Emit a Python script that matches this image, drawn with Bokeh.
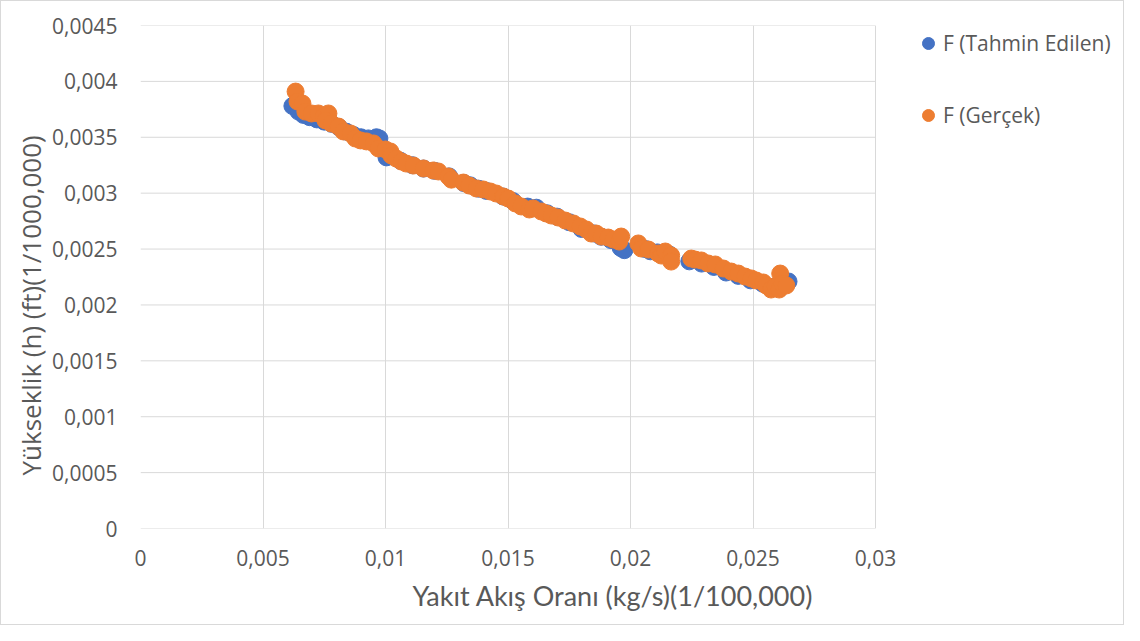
from bokeh.plotting import figure
from bokeh.models import Legend, LegendItem, Title, FixedTicker, Range1d
from bokeh.embed import file_html
from bokeh.resources import INLINE

# --- data -------------------------------------------------------------
gercek_x = [0.00633, 0.00641, 0.00661, 0.00673, 0.00698, 0.00726, 0.00747, 0.00767,
            0.00755, 0.00779, 0.00808, 0.00828, 0.00857, 0.00877, 0.00898, 0.00922,
            0.00951, 0.00971, 0.01000, 0.01020, 0.01024, 0.01044, 0.01065, 0.01085,
            0.01114, 0.01155, 0.01195, 0.01216, 0.01257, 0.01269, 0.01318, 0.01342,
            0.01371, 0.01399, 0.01428, 0.01452, 0.01481, 0.01501, 0.01530, 0.01554,
            0.01587, 0.01603, 0.01636, 0.01656, 0.01677, 0.01705, 0.01734, 0.01767,
            0.01795, 0.01820, 0.01840, 0.01860, 0.01881, 0.01909, 0.01930, 0.01954,
            0.01962, 0.02032, 0.02044, 0.02073, 0.02113, 0.02126, 0.02142, 0.02166,
            0.02166, 0.02248, 0.02264, 0.02289, 0.02317, 0.02346, 0.02379, 0.02411,
            0.02440, 0.02468, 0.02493, 0.02513, 0.02542, 0.02554, 0.02574, 0.02591,
            0.02607, 0.02611, 0.02619, 0.02636]
gercek_y = [0.003909, 0.003820, 0.003802, 0.003730, 0.003713, 0.003713, 0.003686, 0.003713,
            0.003650, 0.003623, 0.003596, 0.003552, 0.003534, 0.003489, 0.003472, 0.003463,
            0.003445, 0.003400, 0.003391, 0.003373, 0.003337, 0.003310, 0.003283, 0.003265,
            0.003247, 0.003221, 0.003203, 0.003194, 0.003149, 0.003121, 0.003095, 0.003068,
            0.003042, 0.003033, 0.003015, 0.002997, 0.002970, 0.002952, 0.002908, 0.002881,
            0.002854, 0.002863, 0.002836, 0.002818, 0.002800, 0.002782, 0.002755, 0.002729,
            0.002702, 0.002675, 0.002639, 0.002639, 0.002612, 0.002603, 0.002585, 0.002567,
            0.002612, 0.002550, 0.002505, 0.002496, 0.002460, 0.002442, 0.002478, 0.002442,
            0.002388, 0.002415, 0.002406, 0.002398, 0.002371, 0.002362, 0.002326, 0.002299,
            0.002281, 0.002254, 0.002237, 0.002219, 0.002201, 0.002174, 0.002138, 0.002165,
            0.002138, 0.002281, 0.002192, 0.002174]

tahmin_x = [0.00620, 0.00645, 0.00665, 0.00690, 0.00720, 0.00750, 0.00780, 0.00810,
            0.00840, 0.00870, 0.00900, 0.00930, 0.00963, 0.00975, 0.01004, 0.01061,
            0.01110, 0.01155, 0.01200, 0.01260, 0.01320, 0.01346, 0.01380, 0.01412,
            0.01480, 0.01520, 0.01580, 0.01616, 0.01660, 0.01700, 0.01750, 0.01800,
            0.01850, 0.01880, 0.01920, 0.01960, 0.01975, 0.02060, 0.02081, 0.02110,
            0.02160, 0.02240, 0.02290, 0.02340, 0.02390, 0.02440, 0.02490, 0.02540,
            0.02580, 0.02620, 0.02645]
tahmin_y = [0.003780, 0.003730, 0.003700, 0.003680, 0.003660, 0.003640, 0.003620, 0.003590,
            0.003550, 0.003520, 0.003500, 0.003490, 0.003500, 0.003490, 0.003320, 0.003290,
            0.003250, 0.003220, 0.003200, 0.003150, 0.003090, 0.003070, 0.003040, 0.003020,
            0.002970, 0.002930, 0.002880, 0.002870, 0.002820, 0.002790, 0.002740, 0.002680,
            0.002640, 0.002610, 0.002580, 0.002510, 0.002490, 0.002500, 0.002480, 0.002470,
            0.002450, 0.002390, 0.002370, 0.002340, 0.002290, 0.002260, 0.002220, 0.002190,
            0.002160, 0.002200, 0.002210]

x_ticks = [0, 0.005, 0.01, 0.015, 0.02, 0.025, 0.03]
x_tick_labels = ["0", "0,005", "0,01", "0,015", "0,02", "0,025", "0,03"]
y_ticks = [0, 0.0005, 0.001, 0.0015, 0.002, 0.0025, 0.003, 0.0035, 0.004, 0.0045]
y_tick_labels = ["0", "0,0005", "0,001", "0,0015", "0,002", "0,0025", "0,003",
                 "0,0035", "0,004", "0,0045"]

series_names = ["F (Tahmin Edilen)", "F (Gerçek)"]
x_title = "Yakıt Akış Oranı (kg/s)(1/100,000)"
y_title = "Yükseklik (h) (ft)(1/1000,000)"

# --- figure -----------------------------------------------------------
TXT = "#595959"
GRID = "#d9d9d9"

W, H = 1124, 625
LEFT, RIGHT, TOP, BOTTOM = 139, 1, 24, 98
plot_w = 735                      # pixel width of the 0..0.03 data area
frame_w = W - LEFT - RIGHT
x_max = x_ticks[-1]
x_end = x_max * frame_w / plot_w  # frame extends right to hold the legend

p = figure(width=W, height=H, output_backend="svg", toolbar_location=None,
           x_range=Range1d(0, x_end), y_range=Range1d(0, y_ticks[-1]),
           min_border_left=LEFT, min_border_right=RIGHT, min_border_top=TOP,
           min_border_bottom=BOTTOM)
p.styles = {"border": "1px solid #d9d9d9", "box-sizing": "border-box"}
p.outline_line_color = None

p.xaxis.ticker = FixedTicker(ticks=x_ticks)
p.yaxis.ticker = FixedTicker(ticks=y_ticks)
p.xaxis.major_label_overrides = {t: l for t, l in zip(x_ticks, x_tick_labels)}
p.yaxis.major_label_overrides = {t: l for t, l in zip(y_ticks, y_tick_labels)}

for ax in (p.xaxis, p.yaxis):
    ax.major_tick_line_color = None
    ax.minor_tick_line_color = None
    ax.major_label_text_color = TXT
    ax.axis_line_color = None
    ax.major_label_text_font = "Open Sans"
    ax.major_label_text_font_size = "21px"

p.xaxis.major_label_standoff = 15
p.yaxis.major_label_standoff = 17

# vertical gridlines from the ticker, horizontal gridlines limited to data area
p.xgrid.grid_line_color = GRID
p.ygrid.grid_line_color = None
p.segment(x0=[0] * len(y_ticks), x1=[x_max] * len(y_ticks), y0=y_ticks, y1=y_ticks,
          line_color=GRID, line_width=1)

yt = Title(text=y_title, align="left", offset=53, text_font="Open Sans",
           text_font_size="26px", text_color=TXT, text_font_style="normal",
           standoff=2)
p.add_layout(yt, "left")

xt = Title(text=x_title, align="left", offset=272, text_font="Lato",
           text_font_size="27px", text_color=TXT, text_font_style="normal",
           standoff=16)
p.add_layout(xt, "below")

r1 = p.scatter(tahmin_x, tahmin_y, size=17, color="#4472C4", line_color="#4472C4")
r2 = p.scatter(gercek_x, gercek_y, size=17, color="#ED7D31", line_color="#ED7D31")

legend = Legend(items=[LegendItem(label=series_names[0], renderers=[r1]),
                       LegendItem(label=series_names[1], renderers=[r2])],
                location=(773, 397), orientation="vertical",
                spacing=40, label_height=32, glyph_height=32, glyph_width=30,
                label_standoff=0, padding=0, margin=0,
                label_text_font="Open Sans", label_text_font_size="21px",
                label_text_color=TXT, background_fill_alpha=0,
                border_line_alpha=0)
p.add_layout(legend, "center")

open("out.html", "w").write(file_html(p, INLINE))
